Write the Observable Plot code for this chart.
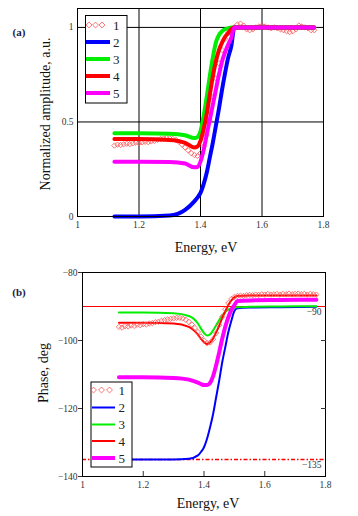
<!DOCTYPE html>
<html>
<head>
<meta charset="utf-8">
<script src="https://cdn.jsdelivr.net/npm/d3@7"></script>
<script src="https://cdn.jsdelivr.net/npm/@observablehq/plot@0.6"></script>
<style>
  html, body { margin: 0; padding: 0; background: white; }
  #wrap { position: relative; width: 358px; height: 516px; font-family: "Liberation Serif", serif; overflow: hidden; }
  #wrap > svg { position: absolute; left: 0; }
</style>
</head>
<body>
<div id="wrap"></div>
<script>
// ---------------- DATA ----------------
const xTicks = [1, 1.2, 1.4, 1.6, 1.8];
const xGridA = [1.2, 1.4, 1.6];
const yTicksA = [0, 0.5, 1];
const yGridA = [0.5, 1];
const yTicksB = [-80, -100, -120, -140];
const refLinesB = [-90, -135];
const seriesNames = ["1", "2", "3", "4", "5"];
const titles = {a: "(a)", b: "(b)", x: "Energy, eV", yA: "Normalized amplitude, a.u.", yB: "Phase, deg"};

// measured points (series 1), energies 1.12..1.77 step 0.01
const measE = [1.12,1.13,1.14,1.15,1.16,1.17,1.18,1.19,1.20,1.21,1.22,1.23,1.24,1.25,1.26,1.27,1.28,1.29,1.30,1.31,1.32,1.33,1.34,1.35,1.36,1.37,1.38,1.39,1.40,1.41,1.42,1.43,1.44,1.45,1.46,1.47,1.48,1.49,1.50,1.51,1.52,1.53,1.54,1.55,1.56,1.57,1.58,1.59,1.60,1.61,1.62,1.63,1.64,1.65,1.66,1.67,1.68,1.69,1.70,1.71,1.72,1.73,1.74,1.75,1.76,1.77];
const measAmp = [0.375,0.38,0.378,0.382,0.385,0.383,0.387,0.39,0.388,0.392,0.395,0.393,0.397,0.40,0.405,0.41,0.412,0.415,0.413,0.41,0.405,0.395,0.38,0.365,0.35,0.335,0.325,0.32,0.335,0.37,0.43,0.51,0.63,0.73,0.81,0.88,0.94,0.97,0.99,1.0,1.015,1.02,1.01,0.99,0.985,0.99,1.0,1.005,1.01,1.005,1.0,0.995,1.0,0.995,0.99,0.985,0.98,0.975,0.98,0.99,1.01,1.005,1.0,0.995,0.985,0.985];
const measPhase = [-96.0,-96.2,-95.8,-95.9,-95.6,-95.7,-95.4,-95.5,-95.2,-95.3,-95.0,-94.9,-94.6,-94.5,-94.2,-94.0,-93.8,-93.6,-93.5,-93.3,-93.3,-93.5,-93.9,-94.5,-95.3,-96.3,-97.5,-98.8,-100.0,-100.8,-100.6,-99.6,-97.8,-95.5,-93.0,-90.8,-89.0,-87.8,-87.2,-86.9,-86.8,-86.9,-86.7,-86.6,-86.7,-86.5,-86.6,-86.4,-86.5,-86.3,-86.5,-86.4,-86.3,-86.5,-86.3,-86.4,-86.2,-86.4,-86.3,-86.2,-86.4,-86.3,-86.5,-86.3,-86.4,-86.5];

// model curves (series 2..5)
const modelE = [1.12,1.2,1.3,1.35,1.38,1.39,1.40,1.41,1.42,1.43,1.44,1.45,1.46,1.47,1.48,1.49,1.50,1.51,1.55,1.65,1.77];
const amp2 = [0,0,0.005,0.035,0.08,0.10,0.125,0.17,0.23,0.31,0.39,0.48,0.57,0.67,0.76,0.84,0.90,1.0,1.0,1.0,1.0];
const amp3 = [0.44,0.44,0.438,0.43,0.415,0.42,0.45,0.53,0.63,0.74,0.84,0.92,0.96,0.98,0.99,0.995,1.0,1.0,1.0,1.0,1.0];
const amp4 = [0.41,0.41,0.405,0.39,0.365,0.37,0.40,0.46,0.54,0.64,0.74,0.82,0.88,0.92,0.95,0.97,0.99,1.0,1.0,1.0,1.0];
const amp5 = [0.29,0.29,0.288,0.28,0.26,0.262,0.29,0.35,0.43,0.51,0.59,0.67,0.75,0.82,0.87,0.91,0.945,1.0,1.0,1.0,1.0];
const ph2 = [-135,-135,-135,-134.8,-133.8,-132.8,-131.4,-128.9,-125.5,-121.6,-116.7,-111.8,-106.4,-102,-97.6,-94.2,-91.3,-90.5,-90.3,-90.2,-90.1];
const ph3 = [-91.8,-91.8,-92,-92.8,-95,-96.5,-97.8,-98.5,-98.2,-97,-95.5,-94,-92.7,-91.6,-90.9,-90.5,-90.3,-90.2,-90.1,-90,-89.9];
const ph4 = [-94.8,-94.8,-95,-96,-98.3,-99.5,-100.5,-101,-100.6,-99.4,-97.6,-95.6,-93.4,-91.4,-89.6,-88.2,-87.3,-86.9,-86.8,-86.8,-86.8];
const ph5 = [-110.8,-110.8,-111,-111.5,-112.4,-112.8,-113.1,-113.1,-112.5,-110.5,-107.3,-103.5,-99.5,-96,-93.2,-91,-89.6,-88.4,-88.2,-88.1,-88];

// ---------------- STYLES ----------------
const colors = {"1": "#ff5050", "2": "#0000ff", "3": "#00ee00", "4": "#ff0000", "5": "#ff00ff"};
const widthsA = {"2": 4, "3": 4, "4": 4, "5": 4};
const widthsB = {"2": 2, "3": 2, "4": 2, "5": 4};
const font = "Liberation Serif";
const tickColor = "#333";

const meas = (ys) => measE.map((e, i) => ({e, v: ys[i]}));
const model = (ys) => modelE.map((e, i) => ({e, v: ys[i]}));

function curveMarks(arrs, widths) {
  return ["2","3","4","5"].map((k, i) =>
    Plot.line(model(arrs[i]), {x: "e", y: "v", stroke: colors[k], strokeWidth: widths[k], curve: "monotone-x"})
  );
}

const wrap = document.getElementById("wrap");

// ---------------- PANEL A ----------------
const plotA = Plot.plot({
  width: 358, height: 255,
  marginLeft: 77, marginRight: 35, marginTop: 8, marginBottom: 39,
  style: {fontFamily: font, fontSize: "9.5px", color: tickColor, background: "white"},
  x: {domain: [1, 1.8]},
  y: {domain: [0, 1.1]},
  marks: [
    Plot.ruleX(xGridA, {stroke: "black", strokeWidth: 1}),
    Plot.ruleY(yGridA, {stroke: "black", strokeWidth: 1}),
    Plot.dot(meas(measAmp), {x: "e", y: "v", symbol: "diamond2", r: 2.4, stroke: colors["1"], strokeWidth: 0.8, fill: "none"}),
    ...curveMarks([amp2, amp3, amp4, amp5], widthsA),
    Plot.frame({stroke: "black"}),
    Plot.axisX({ticks: xTicks, tickSize: 0, tickPadding: 5, label: null, tickFormat: d => String(d)}),
    Plot.axisY({ticks: yTicksA, tickSize: 0, tickPadding: 4, label: null, tickFormat: d => String(d)})
  ]
});
plotA.style.top = "0px";
wrap.appendChild(plotA);

// ---------------- PANEL B ----------------
const plotB = Plot.plot({
  width: 358, height: 258,
  marginLeft: 82, marginRight: 33, marginTop: 14, marginBottom: 40,
  style: {fontFamily: font, fontSize: "9.5px", color: tickColor, background: "white"},
  x: {domain: [1, 1.8]},
  y: {domain: [-140, -80]},
  marks: [
    Plot.ruleY([refLinesB[0]], {stroke: "#ff0000", strokeWidth: 1}),
    Plot.ruleY([refLinesB[1]], {stroke: "#ff0000", strokeWidth: 1.3, strokeDasharray: "4,2,1.5,2"}),
    ...curveMarks([ph2, ph3, ph4, ph5], widthsB),
    Plot.dot(meas(measPhase), {x: "e", y: "v", symbol: "diamond2", r: 2.4, stroke: colors["1"], strokeWidth: 0.8, fill: "none"}),
    Plot.frame({stroke: "black"}),
    Plot.axisX({ticks: xTicks, tickSize: 0, tickPadding: 5, label: null, tickFormat: d => String(d)}),
    Plot.axisX({ticks: [1.2, 1.4, 1.6], tickSize: -5, text: null, label: null}),
    Plot.axisY({ticks: yTicksB, tickSize: 4, tickPadding: 1, label: null, tickFormat: d => "\u2212" + Math.abs(d)}),
    Plot.axisY({anchor: "right", ticks: [-100, -120], tickSize: -5, text: null, label: null}),
    Plot.text(refLinesB, {y: d => d, frameAnchor: "right", text: d => "\u2212" + Math.abs(d), dx: -4, dy: 5, textAnchor: "end", fontSize: 9.5, fill: tickColor})
  ]
});
plotB.style.top = "258px";
wrap.appendChild(plotB);

// ---------------- OVERLAY: titles + legends ----------------
const ov = d3.select(wrap).append("svg")
  .attr("width", 358).attr("height", 516)
  .style("top", "0px")
  .style("pointer-events", "none");

function title(txt, x, y, size, rotate, weight, fill) {
  ov.append("text")
    .attr("transform", `translate(${x},${y})` + (rotate ? ` rotate(${rotate})` : ""))
    .attr("text-anchor", "middle").attr("dy", "0.35em")
    .attr("font-family", font).attr("font-size", size)
    .attr("font-weight", weight || "normal")
    .attr("fill", fill || "#111").text(txt);
}
title(titles.a, 19, 32, 11, 0, "bold", "#1c1c44");
title(titles.b, 19, 292, 11, 0, "bold", "#1c1c44");
title(titles.x, 206, 247, 14);
title(titles.yA, 45, 114, 14, -90);
title(titles.x, 208, 503, 14);
title(titles.yB, 43, 373, 14, -90);

function legend(box, rows, x0, x1, labelX, diamondXs, widths) {
  ov.append("rect").attr("x", box[0]).attr("y", box[1]).attr("width", box[2] - box[0]).attr("height", box[3] - box[1])
    .attr("fill", "white").attr("stroke", "black").attr("stroke-width", 1);
  seriesNames.forEach((name, i) => {
    const y = rows[i];
    if (name === "1") {
      diamondXs.forEach(dx => {
        ov.append("path").attr("d", d3.symbol(d3.symbolDiamond2, 22)())
          .attr("transform", `translate(${dx},${y})`)
          .attr("fill", "none").attr("stroke", colors["1"]).attr("stroke-width", 0.8);
      });
    } else {
      ov.append("line").attr("x1", x0).attr("x2", x1).attr("y1", y).attr("y2", y)
        .attr("stroke", colors[name]).attr("stroke-width", widths[name]);
    }
    ov.append("text").attr("x", labelX).attr("y", y).attr("dy", "0.36em")
      .attr("font-family", font).attr("font-size", 13).attr("fill", "#222").text(name);
  });
}
legend([85.5, 15.5, 127, 103], [25, 42, 59, 76, 93], 86, 110, 113, [89, 95.5, 102], widthsA);
legend([91, 382, 132, 467], [390, 407.5, 424.5, 441, 458], 92, 115, 118.5, [93.5, 101.5, 109.5], widthsB);
</script>
</body>
</html>
